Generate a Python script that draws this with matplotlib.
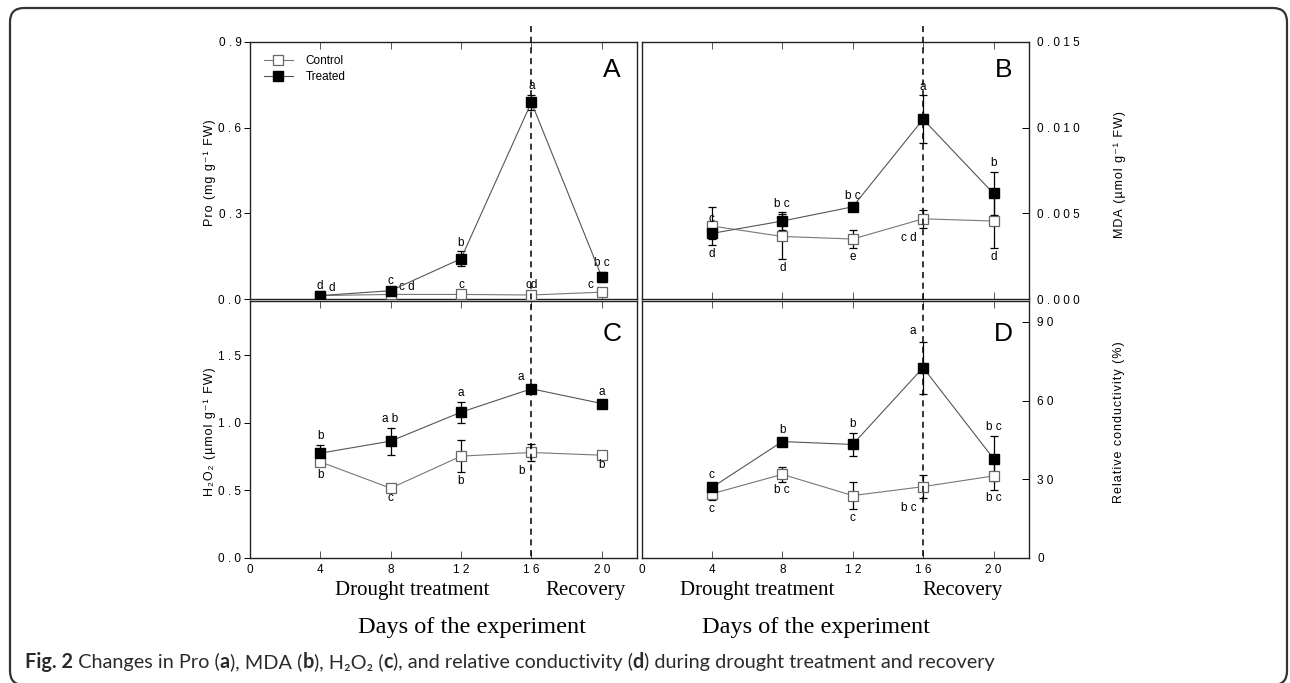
import numpy as np
import matplotlib
matplotlib.use('Agg')
import matplotlib.pyplot as plt
import matplotlib.transforms as mtransforms
from matplotlib.lines import Line2D
from matplotlib.patches import FancyBboxPatch
from matplotlib.ticker import FuncFormatter

# ---- data ----
days = [4, 8, 12, 16, 20]

pro_ctrl = [0.012, 0.016, 0.016, 0.014, 0.024]
pro_ctrl_err = [0.003, 0.004, 0.004, 0.004, 0.004]
pro_trt = [0.012, 0.029, 0.141, 0.689, 0.077]
pro_trt_err = [0.003, 0.005, 0.026, 0.026, 0.019]
pro_ctrl_let = ['d', 'c d', 'c', 'cd', 'c']
pro_trt_let = ['d', 'c', 'b', 'a', 'b c']

mda_ctrl = [0.00426, 0.00365, 0.00350, 0.00468, 0.00455]
mda_ctrl_err = [0.00110, 0.00130, 0.00053, 0.00053, 0.00160]
mda_trt = [0.00383, 0.00455, 0.00538, 0.01049, 0.00616]
mda_trt_err = [0.00030, 0.00050, 0.00010, 0.00139, 0.00126]
mda_ctrl_let = ['d', 'd', 'e', 'c d', 'd']
mda_trt_let = ['c', 'b c', 'b c', 'a', 'b']

h2o2_ctrl = [0.711, 0.516, 0.753, 0.780, 0.760]
h2o2_ctrl_err = [0.030, 0.010, 0.118, 0.064, 0.010]
h2o2_trt = [0.775, 0.864, 1.078, 1.251, 1.142]
h2o2_trt_err = [0.060, 0.100, 0.077, 0.010, 0.020]
h2o2_ctrl_let = ['b', 'c', 'b', 'b', 'b']
h2o2_trt_let = ['b', 'a b', 'a', 'a', 'a']

rc_ctrl = [24.5, 31.9, 23.8, 27.2, 31.3]
rc_ctrl_err = [2.3, 2.8, 5.1, 4.4, 5.2]
rc_trt = [26.9, 44.4, 43.3, 72.6, 37.9]
rc_trt_err = [1.5, 1.0, 4.3, 9.9, 8.6]
rc_ctrl_let = ['c', 'b c', 'c', 'b c', 'b c']
rc_trt_let = ['c', 'b', 'b', 'a', 'b c']

# where each letter sits relative to its point
pro_ctrl_pos = ['r', 'r', 'u', 'u', 'l']
pro_trt_pos = ['u', 'u', 'u', 'u', 'u']
mda_ctrl_pos = ['d', 'd', 'd', 'dl', 'd']
mda_trt_pos = ['u', 'u', 'u', 'u', 'u']
h2o2_ctrl_pos = ['d', 'd', 'd', 'dl', 'd']
h2o2_trt_pos = ['u', 'u', 'u', 'ul', 'u']
rc_ctrl_pos = ['d', 'd', 'd', 'dl', 'd']
rc_trt_pos = ['u', 'u', 'u', 'ul', 'u']

SANS = ['Liberation Sans', 'DejaVu Sans']
SERIF = ['Liberation Serif', 'DejaVu Serif']
plt.rcParams['font.family'] = SANS
plt.rcParams['font.size'] = 8

W, H = 1290, 683
fig = plt.figure(figsize=(W / 100, H / 100), dpi=100)

def px(l, t, r, b):
    return [l / W, 1 - b / H, (r - l) / W, (b - t) / H]

axA = fig.add_axes(px(249.8, 42, 637, 299))
axB = fig.add_axes(px(641.5, 42, 1028.7, 299))
axC = fig.add_axes(px(249.8, 301, 637, 558))
axD = fig.add_axes(px(641.5, 301, 1028.7, 558))

spaced = lambda s, sep='\u200a': sep.join(s)

OFF = {'u': (0, 2, 'center', 'bottom'), 'd': (0, -2, 'center', 'top'),
       'r': (6, 1, 'left', 'bottom'), 'l': (-6, 1, 'right', 'bottom'),
       'ul': (-5, 3, 'right', 'bottom'), 'dl': (-5, -3, 'right', 'top')}

def letters(ax, y, err, labs, pos):
    for x, v, e, t, p in zip(days, y, err, labs, pos):
        if p in ('u', 'ul'):
            yy = v + e
        elif p in ('d', 'dl'):
            yy = v - e
        else:
            yy = v
        dx, dy, ha, va = OFF[p]
        ax.annotate(t, (x, yy), xytext=(dx, dy), textcoords='offset points',
                    ha=ha, va=va, fontsize=8.5)

def panel(ax, ctrl, ctrl_err, trt, trt_err, cl, tl, cp, tp, ylim, yticks, fmt,
          letter, right=False, bottom=False):
    ax.errorbar(days, ctrl, yerr=ctrl_err, fmt='none', ecolor='black',
                elinewidth=0.9, capsize=3, capthick=0.9, zorder=2)
    ax.errorbar(days, trt, yerr=trt_err, fmt='none', ecolor='black',
                elinewidth=0.9, capsize=3, capthick=0.9, zorder=2)
    ax.plot(days, ctrl, '-s', color='#777777', lw=0.8, ms=6.5,
            mfc='white', mec='#666666', mew=0.9, label='Control', zorder=3)
    ax.plot(days, trt, '-s', color='#555555', lw=0.8, ms=7,
            mfc='black', mec='black', label='Treated', zorder=4)
    letters(ax, ctrl, ctrl_err, cl, cp)
    letters(ax, trt, trt_err, tl, tp)
    ax.set_xlim(0, 22)
    ax.set_ylim(*ylim)
    ax.set_yticks(yticks)
    ax.yaxis.set_major_formatter(FuncFormatter(lambda v, _: spaced(fmt.format(v), ' ')))
    ax.set_xticks([0, 4, 8, 12, 16, 20])
    ax.tick_params(axis='x', direction='in', top=True, bottom=True, length=5,
                   width=0.7, labelbottom=bottom, pad=4, colors='#555555',
                   labelcolor='black', labelsize=8.5)
    if right:
        ax.yaxis.tick_right()
        ax.tick_params(axis='y', direction='in', length=5, width=0.7, pad=6,
                       left=False, right=True, labelleft=False, labelright=True,
                       labelsize=8.5)
    else:
        ax.tick_params(axis='y', direction='out', length=4, width=0.7, pad=2,
                       labelsize=8.5)
    if bottom:
        ax.xaxis.set_major_formatter(FuncFormatter(lambda v, _: spaced(f'{v:.0f}', ' ')))
    for s in ax.spines.values():
        s.set_linewidth(1.0)
        s.set_color('#222222')
    ax.text(0.935, 0.89 if not bottom else 0.87, letter, transform=ax.transAxes,
            ha='center', va='center', fontsize=19)

panel(axA, pro_ctrl, pro_ctrl_err, pro_trt, pro_trt_err, pro_ctrl_let, pro_trt_let,
      pro_ctrl_pos, pro_trt_pos, (0, 0.9), [0, 0.3, 0.6, 0.9], '{:.1f}', 'A')
panel(axB, mda_ctrl, mda_ctrl_err, mda_trt, mda_trt_err, mda_ctrl_let, mda_trt_let,
      mda_ctrl_pos, mda_trt_pos, (0, 0.015), [0, 0.005, 0.010, 0.015], '{:.3f}', 'B',
      right=True)
panel(axC, h2o2_ctrl, h2o2_ctrl_err, h2o2_trt, h2o2_trt_err, h2o2_ctrl_let, h2o2_trt_let,
      h2o2_ctrl_pos, h2o2_trt_pos, (0, 1.9), [0, 0.5, 1.0, 1.5], '{:.1f}', 'C',
      bottom=True)
panel(axD, rc_ctrl, rc_ctrl_err, rc_trt, rc_trt_err, rc_ctrl_let, rc_trt_let,
      rc_ctrl_pos, rc_trt_pos, (0, 98), [0, 30, 60, 90], '{:.0f}', 'D',
      right=True, bottom=True)

# y labels (letter-spaced like the original)
axA.set_ylabel(spaced('Pro (mg g\u207b\u00b9 FW)'), fontsize=9)
axA.yaxis.set_label_coords(-0.088, 0.49)
axC.set_ylabel(spaced('H\u2082O\u2082 (\u00b5mol g\u207b\u00b9 FW)'), fontsize=9)
axC.yaxis.set_label_coords(-0.088, 0.49)
for ax, lab, yc in [(axB, 'MDA (\u00b5mol g\u207b\u00b9 FW)', 0.486),
                    (axD, 'Relative conductivity (%)', 0.529)]:
    ax.yaxis.set_label_position('right')
    ax.set_ylabel(spaced(lab), fontsize=9, rotation=90)
    ax.yaxis.set_label_coords(1.218, yc)

axA.legend(loc='upper left', bbox_to_anchor=(0.01, 0.99), frameon=False,
           handlelength=2.4, handletextpad=1.1, labelspacing=0.35, fontsize=8.5)

# dashed line marking the start of recovery
for ax in (axC, axD):
    tr = mtransforms.blended_transform_factory(ax.transData, fig.transFigure)
    fig.add_artist(Line2D([16, 16], [1 - 26 / H, 1 - 558 / H], transform=tr,
                          color='black', lw=1.1, ls=(0, (4, 3))))

# phase / axis titles
for xc, s in [(412, 'Drought treatment'), (585, 'Recovery'),
              (757.5, 'Drought treatment'), (962.5, 'Recovery')]:
    fig.text(xc / W, 1 - 591 / H, s, family=SERIF, fontsize=15, ha='center', va='center')
for xc in (472, 816.5):
    fig.text(xc / W, 1 - 627 / H, 'Days of the experiment', family=SERIF,
             fontsize=17.5, ha='center', va='center')

# outer rounded frame
frame = FancyBboxPatch((10, -2), 1277, 677, boxstyle='round,pad=0,rounding_size=14',
                       transform=None, fill=False, ec='#333333', lw=1.6)
fig.patches.append(frame)

# caption with bold parts
cap = [('Fig. 2', 'bold'), (' Changes in Pro (', 'normal'), ('a', 'bold'),
       ('), MDA (', 'normal'), ('b', 'bold'), ('), H\u2082O\u2082 (', 'normal'),
       ('c', 'bold'), ('), and relative conductivity (', 'normal'), ('d', 'bold'),
       (') during drought treatment and recovery', 'normal')]
renderer = fig.canvas.get_renderer()
x = 25 / W
for s, w in cap:
    t = fig.text(x, 1 - 662 / H, s, family=['Lato', 'DejaVu Sans'], fontsize=14.3,
                 weight=w, color='#2b2b2b', va='center', ha='left')
    x += t.get_window_extent(renderer).width / W

fig.savefig('out.png', dpi=100)
